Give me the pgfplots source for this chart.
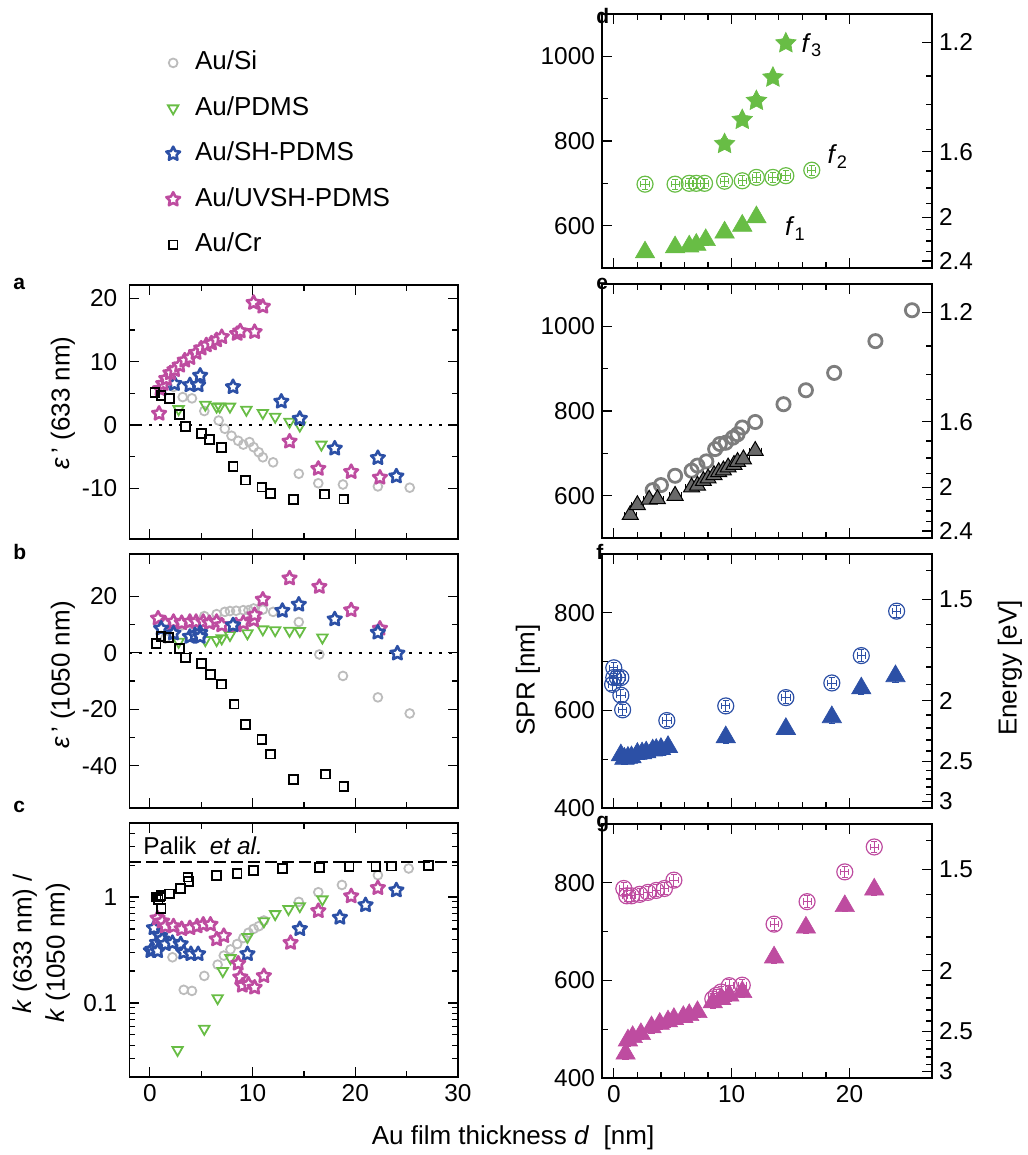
\documentclass[border=0pt]{standalone}
\usepackage{pgfplots}
\pgfplotsset{compat=1.18}
\usetikzlibrary{plotmarks}
\usepackage{fontspec}
\setmainfont{Liberation Sans}

\definecolor{cSi}{RGB}{188,188,188}
\definecolor{cPD}{RGB}{104,189,69}
\definecolor{cSH}{RGB}{44,80,166}
\definecolor{cUV}{RGB}{190,76,160}
\definecolor{cEc}{RGB}{125,125,125}
\definecolor{cEt}{RGB}{105,105,105}

\pgfdeclareplotmark{pstar}{%
  \pgfpathmoveto{\pgfpointpolar{90}{\pgfplotmarksize}}%
  \pgfpathlineto{\pgfpointpolar{126}{0.5*\pgfplotmarksize}}%
  \pgfpathlineto{\pgfpointpolar{162}{\pgfplotmarksize}}%
  \pgfpathlineto{\pgfpointpolar{198}{0.5*\pgfplotmarksize}}%
  \pgfpathlineto{\pgfpointpolar{234}{\pgfplotmarksize}}%
  \pgfpathlineto{\pgfpointpolar{270}{0.5*\pgfplotmarksize}}%
  \pgfpathlineto{\pgfpointpolar{306}{\pgfplotmarksize}}%
  \pgfpathlineto{\pgfpointpolar{342}{0.5*\pgfplotmarksize}}%
  \pgfpathlineto{\pgfpointpolar{18}{\pgfplotmarksize}}%
  \pgfpathlineto{\pgfpointpolar{54}{0.5*\pgfplotmarksize}}%
  \pgfpathclose
  \pgfusepathqfillstroke
}

\newcommand{\tfont}{\fontsize{12.2}{14}\selectfont}
\newcommand{\lfont}{\fontsize{13}{15}\selectfont}

\pgfplotsset{
  pan/.style={scale only axis, anchor=south west, tick align=inside,
    /pgf/number format/assume math mode=true,
    /pgf/number format/1000 sep={},
    tick label style={font=\tfont},
    major tick length=5pt, minor tick length=3pt,
    axis line style={line width=0.7pt},
    tick style={line width=0.6pt, black}},
  L/.style={pan, width=164.35pt, height=127pt, xmin=-2, xmax=30,
    xtick={0,10,20,30}, minor x tick num=1,
    yticklabel style={xshift=-2.5pt}},
  R/.style={pan, width=165pt, height=127pt, xmin=-1, xmax=27,
    xtick={0,10,20}, minor x tick num=4, ytick pos=left},
  E/.style={scale only axis, anchor=south west, width=165pt, height=127pt,
    xmin=-1, xmax=27, hide x axis, axis y line*=right, tick align=inside,
    /pgf/number format/assume math mode=true,
    tick label style={font=\tfont},
    major tick length=5pt, minor tick length=3pt,
    axis line style={line width=0.7pt},
    tick style={line width=0.6pt, black}},
  E1/.style={E, ymin=500, ymax=1100,
    ytick={1033.2,774.9,619.9,516.6}, yticklabels={1.2,1.6,2,2.4},
    minor ytick={953.7,885.6,826.6,729.3,688.8,652.5,590.4,563.6,539.1}},
  E2/.style={E, ymin=400, ymax=920,
    ytick={826.6,619.9,495.9,413.3}, yticklabels={1.5,2,2.5,3},
    minor ytick={885.6,774.9,729.3,688.8,652.5,590.4,563.6,539.1,516.6,476.9,459.2,442.8,427.5,400}},
  mSi/.style={only marks, color=cSi, mark=o, mark size=2.2pt, mark options={line width=0.9pt}},
  mPD/.style={only marks, color=cPD, mark=triangle, mark size=3pt, mark options={line width=0.9pt, rotate=180}},
  mSH/.style={only marks, color=cSH, mark=pstar, mark size=3.6pt, mark options={draw=cSH, fill=white, line width=1.3pt, line join=round}},
  mUV/.style={only marks, color=cUV, mark=pstar, mark size=3.6pt, mark options={draw=cUV, fill=white, line width=1.3pt, line join=round}},
  mCr/.style={only marks, color=black, mark=square, mark size=2.2pt, mark options={line width=0.9pt}},
  eb/.style={error bars/.cd, x dir=both, x fixed=#1, y dir=both, y fixed=12,
    error mark options={rotate=90, mark size=1.6pt, line width=0.45pt},
    error bar style={line width=0.45pt}},
  zline/.style={forget plot, black, line width=1pt, dash pattern=on 1.1pt off 3.9pt},
}

\begin{document}
\begin{tikzpicture}
\useasboundingbox (0,0) rectangle (513.5pt,577.5pt);

% ---------------- panel a ----------------
\begin{axis}[L, at={(64.65pt,308pt)}, xticklabel=\empty,
  ymin=-18, ymax=22.1, ytick={-10,0,10,20}, minor y tick num=1,
  legend style={at={(axis description cs:0.1114,1.935)}, anchor=north west,
    draw=none, fill=none, font=\lfont, inner sep=0pt, row sep=7.75pt, column sep=6.5pt,
    nodes={text height=10pt, text depth=3pt, inner sep=1pt}},
  legend cell align=left]
\addplot[zline] coordinates {(-2,0) (30,0)};
\addplot[mSi] coordinates {(2.3,6.0)(3.2,4.4)(4.1,4.2)(5.3,2.2)(6.7,0.7)(7.3,-0.6)(7.95,-1.7)(8.6,-2.5)(9.1,-3.1)(9.7,-2.7)(10.1,-3.5)(10.6,-4.3)(11.0,-5.1)(12.0,-5.9)(14.5,-7.7)(16.4,-9.2)(18.8,-9.4)(22.2,-9.7)(25.3,-9.9)};
\addlegendentry{Au/Si}
\addplot[mPD] coordinates {(2.8,2.5)(5.4,3.2)(6.5,2.9)(6.8,2.9)(7.8,2.9)(9.4,2.4)(11.0,1.9)(12.2,1.3)(13.6,0.5)(14.6,-0.1)(16.7,-3.1)};
\addlegendentry{Au/PDMS}
\addplot[mSH] coordinates {(1.1,5.7)(2.4,6.5)(3.9,6.3)(4.7,6.3)(4.9,7.8)(8.1,6.0)(12.8,3.7)(14.6,1.0)(18.0,-3.7)(22.2,-5.2)(24.0,-8.1)};
\addlegendentry{Au/SH-PDMS}
\addplot[mUV] coordinates {(0.9,1.8)(1.0,5.7)(1.3,6.5)(1.6,7.3)(2.0,8.2)(2.4,8.7)(2.9,9.4)(3.4,10.2)(3.9,10.6)(4.5,11.4)(5.0,12.1)(5.5,12.6)(6.0,12.9)(6.5,13.4)(7.0,13.9)(8.5,14.4)(8.8,14.8)(10.2,14.7)(10.1,19.3)(11.0,18.7)(13.6,-2.6)(16.4,-6.9)(19.6,-7.4)(22.4,-8.3)};
\addlegendentry{Au/UVSH-PDMS}
\addplot[mCr] coordinates {(0.5,5.1)(1.1,4.7)(1.9,4.2)(2.9,1.7)(3.5,-0.2)(5.0,-1.3)(5.8,-2.3)(7.0,-3.6)(8.1,-6.6)(9.3,-8.7)(10.9,-9.8)(11.75,-10.8)(14.0,-11.8)(17.0,-10.9)(18.9,-11.7)};
\addlegendentry{Au/Cr}
\end{axis}

% ---------------- panel b ----------------
\begin{axis}[L, at={(64.65pt,173.5pt)}, xticklabel=\empty,
  ymin=-55, ymax=35, ytick={-40,-20,0,20}, minor y tick num=1]
\addplot[zline] coordinates {(-2,0) (30,0)};
\addplot[mSi] coordinates {(1.5,5.1)(2.3,8.0)(3.2,9.8)(4.1,10.4)(5.3,13.0)(6.5,13.7)(7.3,14.5)(7.8,14.8)(8.4,14.9)(9.1,15.1)(9.6,15.1)(10.1,15.7)(11.0,15.3)(12.0,14.5)(14.5,10.9)(16.5,-0.6)(18.8,-8.2)(22.2,-15.8)(25.3,-21.5)};
\addplot[mPD] coordinates {(2.8,3.9)(5.4,4.5)(6.5,4.5)(7.0,5.1)(7.8,6.3)(9.5,6.9)(11.0,8.3)(12.2,8.0)(13.6,7.8)(14.6,7.7)(16.8,5.4)};
\addplot[mUV] coordinates {(0.8,12.2)(1.5,10.4)(2.3,11.0)(3.1,10.6)(3.9,11.0)(4.5,11.0)(5.2,11.0)(5.8,10.6)(6.5,11.0)(7.0,9.8)(8.4,9.8)(9.1,10.6)(10.1,11.6)(10.2,13.4)(11.0,18.9)(13.6,26.4)(16.5,23.4)(19.6,15.1)(22.4,8.6)};
\addplot[mSH] coordinates {(1.1,8.6)(2.3,6.9)(3.9,5.7)(4.4,6.3)(4.9,7.1)(4.9,5.7)(8.1,9.8)(12.9,14.9)(14.5,17.1)(18.0,11.9)(22.2,7.2)(24.1,-0.2)};
\addplot[mCr] coordinates {(0.6,3.3)(1.1,5.7)(1.8,5.4)(2.9,1.5)(3.5,-1.8)(5.0,-3.8)(5.9,-7.7)(7.0,-11.1)(8.2,-18.2)(9.3,-25.4)(10.9,-30.7)(11.75,-35.9)(14.0,-44.8)(17.1,-43.0)(18.9,-47.3)};
\end{axis}

% ---------------- panel c ----------------
\begin{axis}[L, at={(64.65pt,39pt)}, ymode=log,
  ymin=0.02, ymax=5, ytick={0.1,1}, yticklabels={0.1,1},
  minor ytick={0.02,0.03,0.04,0.05,0.06,0.07,0.08,0.09,0.2,0.3,0.4,0.5,0.6,0.7,0.8,0.9,2,3,4,5}]
\addplot[forget plot, black, line width=0.8pt, dash pattern=on 6pt off 2.5pt] coordinates {(-2,2.15) (30,2.15)};
\node[anchor=base west, inner sep=0pt, font=\tfont] at (axis cs:-0.66,2.54) {Palik\ \ \textit{et al.}};
\addplot[mSi] coordinates {(2.2,0.27)(3.3,0.133)(4.1,0.13)(5.3,0.18)(6.6,0.23)(7.2,0.28)(7.85,0.32)(8.5,0.36)(9.1,0.41)(9.6,0.46)(10.1,0.50)(10.6,0.53)(11.1,0.60)(14.5,0.90)(16.4,1.11)(18.7,1.30)(22.2,1.61)(25.2,1.86)};
\addplot[mPD] coordinates {(2.7,0.036)(5.3,0.057)(6.6,0.111)(7.1,0.20)(7.85,0.265)(9.5,0.42)(11.1,0.59)(12.2,0.69)(13.5,0.77)(14.6,0.82)(16.8,0.95)};
\addplot[mSH] coordinates {(0.1,0.31)(0.25,0.32)(0.4,0.51)(0.7,0.37)(0.75,0.31)(1.0,0.43)(1.2,0.40)(1.5,0.36)(2.2,0.37)(3.0,0.36)(3.3,0.30)(4.0,0.29)(4.7,0.29)(9.5,0.29)(14.6,0.50)(18.5,0.64)(21.0,0.84)(24.0,1.16)};
\addplot[mUV] coordinates {(0.75,0.63)(1.2,0.59)(1.5,0.53)(2.3,0.53)(3.1,0.50)(3.9,0.51)(4.6,0.53)(5.2,0.55)(5.9,0.55)(6.5,0.40)(7.2,0.43)(8.6,0.236)(8.8,0.175)(9.0,0.146)(9.6,0.15)(10.2,0.14)(11.1,0.18)(13.7,0.37)(16.4,0.74)(19.6,1.02)(22.2,1.22)};
\addplot[mCr] coordinates {(0.6,1.0)(0.8,0.95)(1.0,1.0)(1.1,0.78)(1.1,1.03)(1.9,1.07)(3.0,1.2)(3.8,1.41)(3.7,1.54)(6.5,1.6)(8.5,1.66)(10.1,1.78)(12.9,1.85)(16.5,1.91)(19.4,1.94)(22.0,1.94)(23.5,1.96)(27.1,1.98)};
\end{axis}

% ---------------- panel d ----------------
\begin{axis}[R, at={(301pt,443.5pt)}, xticklabel=\empty,
  ymin=500, ymax=1100, ytick={600,800,1000}, minor y tick num=1]
\addplot[only marks, color=cPD, mark=triangle*, mark size=5.6pt, mark options={fill=cPD, draw=cPD, line width=0.3pt}, eb=0.35]
 coordinates {(2.65,537)(5.2,549)(6.4,551)(7.0,555)(7.8,566)(9.4,584)(10.9,600)(12.1,620)};
\addplot[only marks, color=cPD, mark=o, mark size=4pt, mark options={line width=0.6pt}, eb=0.35]
 coordinates {(2.65,698)(5.2,698)(6.4,700)(7.0,700)(7.7,700)(9.4,705)(10.9,706)(12.1,714)(13.5,714)(14.6,718)(16.8,731)};
\addplot[only marks, color=cPD, mark=pstar, mark size=5.4pt, mark options={fill=cPD, draw=cPD, line width=0.3pt}, eb=0.2]
 coordinates {(9.4,793)(10.9,850)(12.1,895)(13.5,950)(14.6,1031)};
\node[anchor=base west, inner sep=0pt, font=\lfont] at (axis cs:15.9,1010) {\textit{f}\textsubscript{3}};
\node[anchor=base west, inner sep=0pt, font=\lfont] at (axis cs:18.1,746) {\textit{f}\textsubscript{2}};
\node[anchor=base west, inner sep=0pt, font=\lfont] at (axis cs:14.5,576) {\textit{f}\textsubscript{1}};
\end{axis}
\begin{axis}[E1, at={(301pt,443.5pt)}]
\end{axis}

% ---------------- panel e ----------------
\begin{axis}[R, at={(301pt,308.5pt)}, xticklabel=\empty,
  ymin=500, ymax=1100, ytick={600,800,1000}, minor y tick num=1]
\addplot[only marks, color=cEc, mark=o, mark size=3.3pt, mark options={line width=1.4pt}]
 coordinates {(3.3,613)(4.0,625)(5.2,647)(6.6,659)(7.1,671)(7.85,681)(8.6,710)(9.0,722)(9.5,725)(10.1,737)(10.5,745)(10.9,761)(12.0,774)(14.4,816)(16.3,849)(18.7,890)(22.2,965)(25.3,1038)};
\addplot[only marks, color=black, mark=triangle*, mark size=4.6pt, mark options={fill=cEt, draw=black, line width=0.5pt},
 error bars/.cd, x dir=both, x fixed=0.5, y dir=both, y fixed=8, error mark options={rotate=90, mark size=1.6pt, line width=0.45pt}, error bar style={line width=0.45pt}]
 coordinates {(1.4,555)(2.0,578)(3.0,591)(3.7,592)(5.2,600)(6.6,620)(7.1,624)(7.6,635)(8.0,641)(8.5,649)(8.9,656)(9.3,660)(9.7,667)(10.2,673)(10.5,680)(11.0,686)(12.0,706)};
\end{axis}
\begin{axis}[E1, at={(301pt,308.5pt)}]
\end{axis}

% ---------------- panel f ----------------
\begin{axis}[R, at={(301pt,173.5pt)}, xticklabel=\empty,
  ymin=400, ymax=920, ytick={400,600,800}, minor y tick num=1]
\addplot[only marks, color=cSH, mark=o, mark size=4pt, mark options={line width=0.6pt}, eb=0.35]
 coordinates {(0.0,687)(-0.1,653)(0.0,667)(0.3,667)(0.6,667)(0.6,631)(0.75,601)(4.5,579)(9.5,609)(14.6,626)(18.5,656)(21.0,712)(24.0,803)};
\addplot[only marks, color=cSH, mark=triangle*, mark size=5.6pt, mark options={fill=cSH, draw=cSH, line width=0.3pt}, eb=0.35]
 coordinates {(0.6,508)(0.9,501)(1.2,503)(1.5,504)(2.0,511)(2.4,512)(2.75,514)(3.3,518)(3.6,519)(4.0,521)(4.6,525)(9.5,545)(14.6,562)(18.5,586)(21.0,645)(23.9,670)};
\end{axis}
\begin{axis}[E2, at={(301pt,173.5pt)}]
\end{axis}

% ---------------- panel g ----------------
\begin{axis}[R, at={(301pt,38.5pt)},
  ymin=400, ymax=920, ytick={400,600,800}, minor y tick num=1]
\addplot[only marks, color=cUV, mark=o, mark size=4pt, mark options={line width=0.6pt}, eb=0.35]
 coordinates {(0.85,788)(1.1,773)(1.5,773)(2.2,776)(2.9,780)(3.6,784)(4.3,788)(5.1,805)(8.4,562)(8.7,569)(9.1,576)(9.8,589)(10.9,590)(13.6,715)(16.4,761)(19.6,822)(22.1,873)};
\addplot[only marks, color=cUV, mark=triangle*, mark size=5.6pt, mark options={fill=cUV, draw=cUV, line width=0.3pt}, eb=0.35]
 coordinates {(1.0,450)(1.2,477)(1.6,484)(2.3,490)(3.2,504)(3.9,511)(4.6,516)(5.1,521)(5.9,525)(6.4,529)(7.1,535)(8.4,555)(9.1,562)(9.8,569)(10.9,576)(13.6,647)(16.3,708)(19.6,752)(22.1,786)};
\end{axis}
\begin{axis}[E2, at={(301pt,38.5pt)}]
\end{axis}

% ---------------- labels ----------------
\node[rotate=90, font=\lfont] at (31.5pt,376pt) {\textit{ε}\,' (633 nm)};
\node[rotate=90, font=\lfont] at (31.5pt,240pt) {\textit{ε}\,' (1050 nm)};
\node[rotate=90, font=\lfont] at (12.5pt,105.5pt) {\textit{k} (633 nm) /};
\node[rotate=90, font=\lfont] at (29pt,101pt) {\textit{k} (1050 nm)};
\node[rotate=90, font=\lfont] at (264pt,237.5pt) {SPR [nm]};
\node[rotate=90, font=\lfont] at (505pt,243.5pt) {Energy [eV]};
\node[font=\lfont] at (256.5pt,8.5pt) {Au film thickness \textit{d}\ \ [nm]};

\node[anchor=base west, inner sep=0pt, font=\fontsize{10.5}{12}\selectfont\bfseries] at (6.5pt,432.5pt) {a};
\node[anchor=base west, inner sep=0pt, font=\fontsize{10.5}{12}\selectfont\bfseries] at (6.5pt,297.5pt) {b};
\node[anchor=base west, inner sep=0pt, font=\fontsize{10.5}{12}\selectfont\bfseries] at (6.5pt,171pt) {c};
\node[anchor=base west, inner sep=0pt, font=\fontsize{10.5}{12}\selectfont\bfseries] at (298pt,565.5pt) {d};
\node[anchor=base west, inner sep=0pt, font=\fontsize{10.5}{12}\selectfont\bfseries] at (298pt,432.5pt) {e};
\node[anchor=base west, inner sep=0pt, font=\fontsize{10.5}{12}\selectfont\bfseries] at (298pt,297.5pt) {f};
\node[anchor=base west, inner sep=0pt, font=\fontsize{10.5}{12}\selectfont\bfseries] at (298pt,163.5pt) {g};
\end{tikzpicture}
\end{document}
